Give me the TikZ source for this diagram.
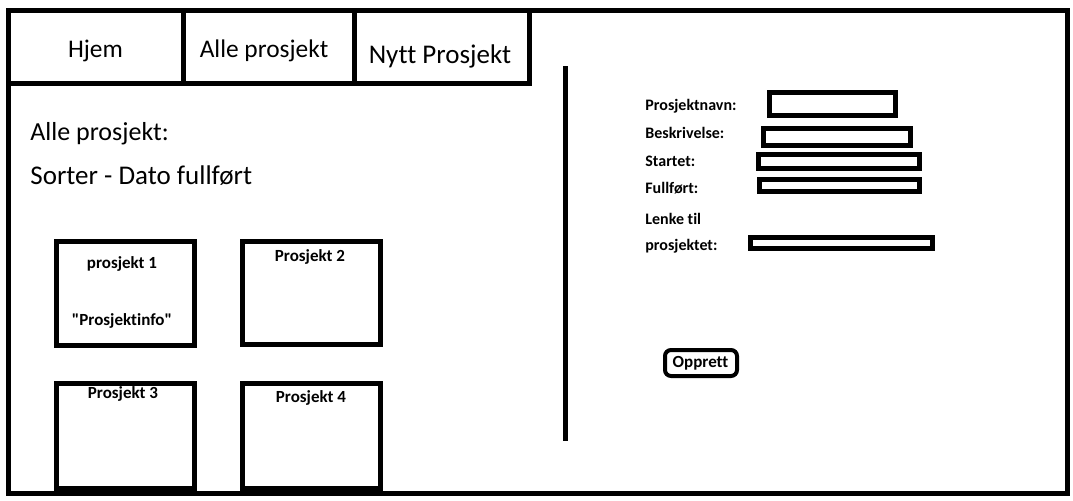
\documentclass[tikz,border=0pt]{standalone}
\usepackage{fontspec}
\setmainfont{Carlito}[Ligatures=NoCommon]
\begin{document}
\begin{tikzpicture}[x=0.5pt,y=-0.5pt,
    frame/.style={line width=2.5pt},
    tabtext/.style={anchor=base, inner sep=0pt, font=\fontsize{12.7}{15}\selectfont},
    headtext/.style={anchor=base west, inner sep=0pt},
    label/.style={anchor=base west, inner sep=0pt, font=\fontsize{8}{10}\selectfont\bfseries},
    boxtext/.style={anchor=base, inner sep=0pt, font=\fontsize{8.5}{10}\selectfont\bfseries}]
    \useasboundingbox (0,0) rectangle (1073,500);

    % outer frame and menu
    \draw[frame] (8.5,10.5) rectangle (1067.5,493);
    \draw[frame] (8.5,10.5) rectangle (183,83);
    \draw[frame] (183,10.5) rectangle (354,83);
    \draw[frame] (354,10.5) rectangle (529,83);

    \node[tabtext] (hjem) at (95.5,57) {Hjem};
    \node[tabtext] (alle) at (264,57) {Alle prosjekt};
    \node[tabtext, font=\fontsize{13.5}{15}\selectfont] (nytt) at (440,63) {Nytt Prosjekt};

    % left side
    \node[headtext, font=\fontsize{13}{15}\selectfont] (overskrift) at (30,140.5) {Alle prosjekt:};
    \node[headtext, font=\fontsize{13.5}{15}\selectfont] (sorter) at (30,184) {Sorter - Dato fullført};

    \draw[frame] (56,241) rectangle (194,345);
    \draw[frame] (242,241) rectangle (380,344);
    \draw[frame] (56,383) rectangle (194,488);
    \draw[frame] (242,383) rectangle (380,488);

    \node[boxtext] (p1) at (122,268) {prosjekt 1};
    \node[boxtext] (info) at (122,325) {\textquotedbl Prosjektinfo\textquotedbl};
    \node[boxtext] (p2) at (310,261) {Prosjekt 2};
    \node[boxtext] (p3) at (123,398) {Prosjekt 3};
    \node[boxtext] (p4) at (311,402) {Prosjekt 4};

    % divider
    \draw[frame] (565.5,66) -- (565.5,441);

    % right side, form
    \node[label] (navn) at (645,110.5) {Prosjektnavn:};
    \node[label] (beskr) at (645,138) {Beskrivelse:};
    \node[label] (start) at (645,166) {Startet:};
    \node[label] (ferdig) at (645,193) {Fullført:};
    \node[label] (lenke) at (645,224) {Lenke til};
    \node[label] (lenke2) at (645,250) {prosjektet:};

    \draw[frame] (769.5,92.5) rectangle (895.5,115.5);
    \draw[frame] (763.5,128.5) rectangle (910.5,145.5);
    \draw[frame] (758.5,154.5) rectangle (919.5,168.5);
    \draw[frame] (759.5,179.5) rectangle (919.5,191.5);
    \draw[frame] (750.5,237.5) rectangle (932.5,248.5);

    \draw[line width=2pt, rounded corners=3pt] (665,350) rectangle (737,376);
    \node[boxtext] (opprett) at (700.5,367) {Opprett};

\end{tikzpicture}
\end{document}
